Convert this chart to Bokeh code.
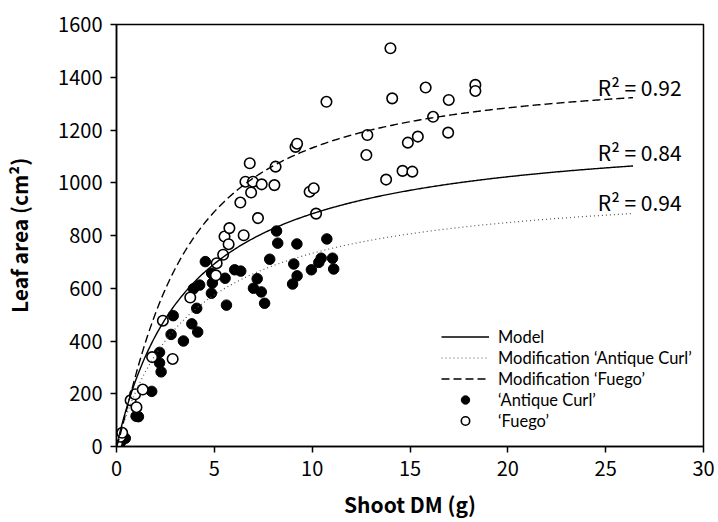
import numpy as np
from bokeh.plotting import figure
from bokeh.models import Range1d, Legend, LegendItem, ColumnDataSource, FixedTicker
from bokeh.embed import file_html
from bokeh.resources import INLINE
from bokeh.core.properties import value

# ---- data ----
antique_dm = [0.2, 0.45, 1.0, 1.12, 1.8, 2.2, 2.2, 2.28, 2.79, 2.9, 3.42, 3.85, 4.15, 4.1,
              3.93, 4.25, 4.54, 4.85, 4.9, 4.86, 5.55, 5.62, 6.04, 6.35, 7.0, 7.19, 7.4,
              7.57, 7.83, 8.18, 8.24, 9.0, 9.06, 9.22, 9.23, 9.96, 10.34, 10.46, 10.75,
              11.04, 11.1]
antique_la = [15, 31, 115, 113, 209, 357, 317, 283, 425, 496, 400, 465, 434, 524,
              598, 612, 701, 581, 620, 657, 638, 536, 670, 665, 600, 636, 586,
              543, 710, 817, 771, 616, 692, 768, 647, 670, 698, 714, 787,
              714, 673]

fuego_dm = [0.03, 0.2, 0.29, 0.72, 0.95, 1.02, 1.34, 1.82, 2.87, 2.37, 3.77, 5.08, 5.12,
            5.45, 5.52, 5.73, 5.77, 6.5, 7.23, 6.33, 6.88, 6.59, 6.97, 7.42, 6.81, 8.07,
            8.13, 9.15, 9.23, 9.87, 10.08, 10.2, 10.73, 12.77, 12.82, 13.78, 14.0, 14.09,
            14.62, 15.12, 14.89, 15.4, 15.8, 16.18, 16.95, 16.98, 18.34, 18.34]
fuego_la = [12, 37, 52, 175, 198, 149, 216, 339, 332, 477, 565, 649, 695,
            727, 796, 767, 828, 801, 866, 925, 963, 1004, 1004, 994, 1074, 991,
            1061, 1136, 1148, 966, 979, 883, 1307, 1105, 1181, 1012, 1510, 1320,
            1045, 1042, 1152, 1175, 1361, 1250, 1190, 1314, 1371, 1348]

# fitted curves: LA = a * DM^c / (k + DM^c)
model_params = (1216.0, 3.78, 1.0)
mod_antique_params = (1010.0, 3.79, 1.0)
mod_fuego_params = (1432.0, 4.20, 1.2)
curve_end = 26.4

r2_text = ["R\u00b2 = 0.92", "R\u00b2 = 0.84", "R\u00b2 = 0.94"]
r2_x = [24.6, 24.6, 24.6]
r2_y = [1363, 1117, 927]

x_ticks = [0, 5, 10, 15, 20, 25, 30]
y_ticks = [0, 200, 400, 600, 800, 1000, 1200, 1400, 1600]

FONT = "Noto Sans CJK KR"
LEGEND_FONT = "Lato"


def curve(params):
    a, k, c = params
    xs = np.linspace(0, curve_end, 400)
    return xs, a * xs ** c / (k + xs ** c)


p = figure(frame_width=587, frame_height=422, min_border_left=116, min_border_right=14,
           min_border_top=24, min_border_bottom=75,
           x_range=Range1d(0, 30), y_range=Range1d(0, 1600),
           output_backend="svg", toolbar_location=None, background_fill_color="white")
p.grid.visible = False
p.outline_line_color = "black"
p.outline_line_width = 1.5

for ax in (p.xaxis[0], p.yaxis[0]):
    ax.axis_line_width = 1.5
    ax.axis_line_color = "black"
    ax.major_tick_line_width = 1.5
    ax.major_tick_line_color = "black"
    ax.major_tick_in = 0
    ax.major_tick_out = 6
    ax.minor_tick_line_color = None
    ax.major_label_text_font = FONT
    ax.major_label_text_font_size = "20px"
    ax.major_label_text_color = "black"
    ax.axis_label_text_font = FONT
    ax.axis_label_text_font_size = "21px"
    ax.axis_label_text_font_style = "bold"
    ax.axis_label_text_color = "black"

p.xaxis.ticker = FixedTicker(ticks=x_ticks)
p.yaxis.ticker = FixedTicker(ticks=y_ticks)
p.xaxis.axis_label = "Shoot DM (g)"
p.yaxis.axis_label = "Leaf area (cm\u00b2)"
p.xaxis.major_label_standoff = 8
p.yaxis.major_label_standoff = 8
p.xaxis.axis_label_standoff = 10
p.yaxis.axis_label_standoff = 21

r_ant = p.scatter(antique_dm, antique_la, size=10.5, marker="circle",
                  fill_color="black", line_color="black", line_width=1)
r_fue = p.scatter(fuego_dm, fuego_la, size=10.5, marker="circle",
                  fill_color="white", line_color="black", line_width=1.6)

mx, my = curve(model_params)
r_model = p.line(mx, my, line_color="black", line_width=1.4)
ax_, ay_ = curve(mod_antique_params)
r_mant = p.line(ax_, ay_, line_color="#555555", line_width=1.2, line_dash="1 3")
fx, fy = curve(mod_fuego_params)
r_mfue = p.line(fx, fy, line_color="black", line_width=1.4, line_dash="8 4")

src = ColumnDataSource(dict(x=r2_x, y=r2_y, t=r2_text))
p.text(x="x", y="y", text="t", source=src, text_font=value(FONT),
       text_font_size="21px", text_align="left", text_baseline="middle",
       text_color="black")

legend = Legend(items=[
    LegendItem(label="Model", renderers=[r_model]),
    LegendItem(label="Modification \u2018Antique Curl\u2019", renderers=[r_mant]),
    LegendItem(label="Modification \u2018Fuego\u2019", renderers=[r_mfue]),
    LegendItem(label="\u2018Antique Curl\u2019", renderers=[r_ant]),
    LegendItem(label="\u2018Fuego\u2019", renderers=[r_fue]),
], location=(325, 15))
legend.border_line_alpha = 0
legend.background_fill_alpha = 0
legend.padding = 0
legend.margin = 0
legend.spacing = 0
legend.label_height = 21
legend.glyph_height = 21
legend.glyph_width = 48
legend.label_standoff = 9
legend.label_text_font = LEGEND_FONT
legend.label_text_font_size = "16.5px"
legend.label_text_color = "black"
p.add_layout(legend)

open("out.html", "w").write(file_html(p, INLINE))
